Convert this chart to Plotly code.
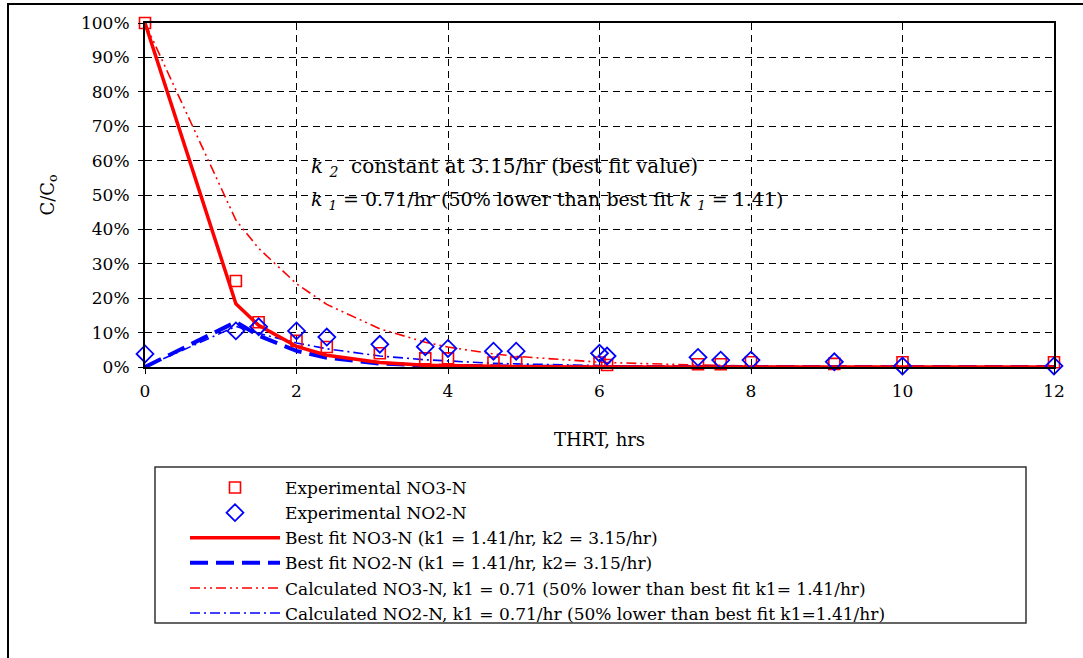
import plotly.graph_objects as go

# ---- data ----
thrt_hrs = [0, 1.2, 1.5, 2, 2.4, 3.1, 3.7, 4, 4.6, 4.9, 6, 6.1, 7.3, 7.6, 8, 9.1, 10, 12]

exp_no3 = [1.00, 0.25, 0.13, 0.076, 0.058, 0.040, 0.025, 0.025, 0.013, 0.013,
           0.013, 0.006, 0.008, 0.008, 0.014, 0.009, 0.014, 0.014]
exp_no2 = [0.038, 0.105, 0.117, 0.105, 0.087, 0.066, 0.059, 0.054, 0.046, 0.046,
           0.040, 0.032, 0.028, 0.020, 0.020, 0.015, 0.003, 0.003]

fit_no3 = [1.00, 0.184, 0.121, 0.060, 0.034, 0.013, 0.005, 0.004, 0.002, 0.001,
           0.0002, 0.0002, 0, 0, 0, 0, 0, 0]
fit_no2 = [0.00, 0.131, 0.091, 0.047, 0.027, 0.010, 0.0044, 0.0029, 0.0012, 0.0008,
           0.0002, 0.0002, 0, 0, 0, 0, 0, 0]

calc_no3 = [1.00, 0.427, 0.345, 0.242, 0.182, 0.111, 0.072, 0.058, 0.038, 0.031,
            0.014, 0.013, 0.0056, 0.0045, 0.0034, 0.0016, 0.0008, 0.0002]
calc_no2 = [0.00, 0.118, 0.098, 0.070, 0.053, 0.032, 0.021, 0.017, 0.011, 0.009,
            0.004, 0.0038, 0.0016, 0.0013, 0.0010, 0.0005, 0.0002, 0.0001]

x_ticks = [0, 2, 4, 6, 8, 10, 12]
y_ticks = [0, 0.1, 0.2, 0.3, 0.4, 0.5, 0.6, 0.7, 0.8, 0.9, 1.0]

names = [
    "Experimental NO3-N",
    "Experimental NO2-N",
    "Best fit NO3-N (k1 = 1.41/hr, k2 = 3.15/hr)",
    "Best fit NO2-N (k1 = 1.41/hr, k2= 3.15/hr)",
    "Calculated NO3-N, k1 = 0.71 (50% lower than best fit k1= 1.41/hr)",
    "Calculated NO2-N, k1 = 0.71/hr (50% lower than best fit k1=1.41/hr)",
]

RED = "#FF0000"
BLUE = "#0000FF"
FONT = "DejaVu Serif"

fig = go.Figure()

fig.add_trace(go.Scatter(x=thrt_hrs, y=calc_no3, mode="lines", name=names[4],
                         line=dict(color=RED, width=1.6, dash="10px,4px,2px,4px,2px,4px"),
                         cliponaxis=False, legendrank=5))
fig.add_trace(go.Scatter(x=thrt_hrs, y=calc_no2, mode="lines", name=names[5],
                         line=dict(color=BLUE, width=1.6, dash="10px,4px,2px,4px"),
                         cliponaxis=False, legendrank=6))
fig.add_trace(go.Scatter(x=thrt_hrs, y=fit_no2, mode="lines", name=names[3],
                         line=dict(color=BLUE, width=4, dash="18px,8px"),
                         cliponaxis=False, legendrank=4))
fig.add_trace(go.Scatter(x=thrt_hrs, y=fit_no3, mode="lines", name=names[2],
                         line=dict(color=RED, width=3.5),
                         cliponaxis=False, legendrank=3))
fig.add_trace(go.Scatter(x=thrt_hrs, y=exp_no3, mode="markers", name=names[0],
                         marker=dict(symbol="square-open", size=11, color=RED,
                                     line=dict(width=1.6, color=RED)),
                         cliponaxis=False, legendrank=1))
fig.add_trace(go.Scatter(x=thrt_hrs, y=exp_no2, mode="markers", name=names[1],
                         marker=dict(symbol="diamond-open", size=13, color=BLUE,
                                     line=dict(width=1.8, color=BLUE)),
                         cliponaxis=False, legendrank=2))

# geometry (pixels) of the plot area in the reference
L, R, T, B = 145, 1054, 23, 367
W, H = 1083, 658

def px_x(p):
    return (p - L) / (R - L)

def px_y(p):
    return (B - p) / (B - T)

fig.update_layout(
    width=W, height=H,
    margin=dict(l=L, r=W - R, t=T, b=H - B, pad=0),
    paper_bgcolor="white", plot_bgcolor="white",
    font=dict(family=FONT, size=17, color="black"),
    showlegend=True,
    legend=dict(
        x=px_x(185), y=px_y(470), xanchor="left", yanchor="top",
        bgcolor="rgba(0,0,0,0)", borderwidth=0,
        font=dict(family=FONT, size=17, color="black"),
        itemwidth=90, tracegroupgap=0,
    ),
    xaxis=dict(
        range=[0, 12], tickvals=x_ticks, ticktext=[str(v) for v in x_ticks],
        showgrid=True, gridcolor="black", gridwidth=1, griddash="7px,5px",
        showline=True, linecolor="black", linewidth=2, mirror=True,
        ticks="outside", ticklen=5, tickcolor="black", ticklabelstandoff=3,
        zeroline=False,
        tickfont=dict(family=FONT, size=17),
        title=dict(text="THRT, hrs", font=dict(family=FONT, size=18), standoff=33),
    ),
    yaxis=dict(
        range=[0, 1], tickvals=y_ticks, tickformat=".0%",
        showgrid=True, gridcolor="black", gridwidth=1, griddash="7px,5px",
        showline=True, linecolor="black", linewidth=2, mirror=True,
        ticks="outside", ticklen=5, tickcolor="black", ticklabelstandoff=5,
        zeroline=False,
        tickfont=dict(family=FONT, size=17),
        title=dict(text="C/C<sub>o</sub>", font=dict(family=FONT, size=18), standoff=22),
    ),
    shapes=[
        # outer chart frame (cropped on right/bottom)
        dict(type="rect", xref="paper", yref="paper",
             x0=px_x(8), x1=px_x(1095), y0=px_y(670), y1=px_y(4),
             line=dict(color="black", width=2), fillcolor="rgba(0,0,0,0)", layer="below"),
        # legend frame
        dict(type="rect", xref="paper", yref="paper",
             x0=px_x(155), x1=px_x(1026), y0=px_y(623), y1=px_y(467),
             line=dict(color="#333333", width=1.5), fillcolor="rgba(0,0,0,0)", layer="below"),
    ],
    annotations=[
        dict(x=2.16, y=0.58, xref="x", yref="y", xanchor="left", yanchor="middle",
             showarrow=False, font=dict(family=FONT, size=20),
             text="<i>k</i> <sub><i>2</i></sub>  constant at 3.15/hr (best fit value)"),
        dict(x=2.16, y=0.483, xref="x", yref="y", xanchor="left", yanchor="middle",
             showarrow=False, font=dict(family=FONT, size=19),
             text="<i>k</i> <sub><i>1</i></sub> = 0.71/hr (50% lower than best fit <i>k</i> <sub><i>1</i></sub> = 1.41)"),
    ],
)

fig.write_html("out.html")
